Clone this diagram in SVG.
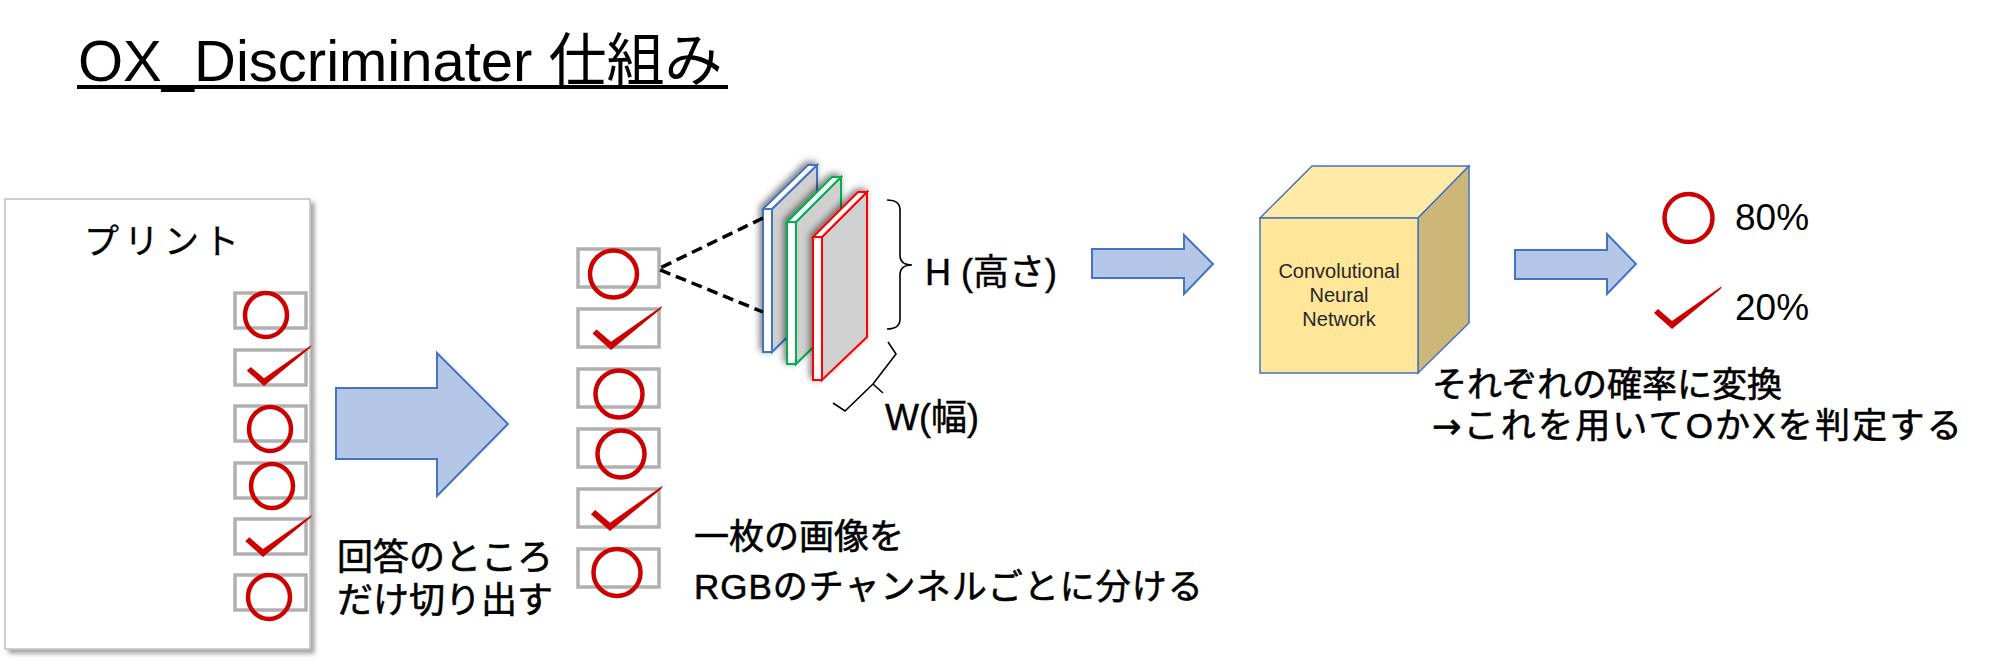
<svg xmlns="http://www.w3.org/2000/svg" xmlns:xlink="http://www.w3.org/1999/xlink" width="1997" height="664" viewBox="0 0 1997 664">
<defs>
<style>
.jp{font-family:"Liberation Sans","Noto Sans CJK JP",sans-serif;fill:#000;stroke:#000;stroke-width:0.6}
.lat{font-family:"Liberation Sans","Noto Sans CJK JP",sans-serif;fill:#000}
.arr{font-family:"DejaVu Sans",sans-serif}
.lab{stroke:#000;stroke-width:0.4}
.box{fill:none;stroke:#b0b0b0;stroke-width:3.5}
.mark{fill:none;stroke:#cc0000;stroke-width:4.5}
.chk{fill:#cc0000}
.arrow{fill:#b4c7e7;stroke:#4472c4;stroke-width:2;stroke-linejoin:miter}
.face{fill:#ffffff;stroke-width:2;stroke-linejoin:miter}
.side{fill:#d0d0d0;stroke-width:2;stroke-linejoin:miter}
.brace{fill:none;stroke:#000;stroke-width:1.6}
.dash{fill:none;stroke:#000;stroke-width:3.5;stroke-dasharray:11 6}
.cube{stroke:#4472c4;stroke-width:1.5;stroke-linejoin:miter}
</style>
<path id="chk" d="M0,2 L-18,-14 L-14,-18 L0,-6 L50,-41 L48.5,-38 Z"/>
<filter id="paperShadow" x="-10%" y="-10%" width="125%" height="125%">
<feDropShadow dx="4" dy="4" stdDeviation="2" flood-color="#000" flood-opacity="0.35"/>
</filter>
<filter id="panelShadow" x="-50%" y="-20%" width="200%" height="140%">
<feDropShadow dx="-2" dy="-2" stdDeviation="3.5" flood-color="#000" flood-opacity="0.55"/>
</filter>
</defs>
<rect width="1997" height="664" fill="#ffffff"/>

<g id="title">
<text class="lat" x="78" y="81" font-size="58">OX_Discriminater 仕組み</text>
<rect x="77" y="85" width="651" height="4" fill="#000"/>
</g>

<g id="print">
<rect x="5" y="199" width="305" height="450" fill="#ffffff" stroke="#bfbfbf" stroke-width="1.5" filter="url(#paperShadow)"/>
<text class="jp" x="84" y="254" font-size="35" letter-spacing="5" style="stroke-width:0.3">プリント</text>
<rect class="box" x="235" y="293" width="71" height="35"/>
<rect class="box" x="235" y="350" width="71" height="35"/>
<rect class="box" x="235" y="406" width="71" height="35"/>
<rect class="box" x="235" y="463" width="71" height="35"/>
<rect class="box" x="235" y="519" width="71" height="35"/>
<rect class="box" x="235" y="575" width="71" height="35"/>
<ellipse class="mark" cx="266" cy="315" rx="21" ry="22"/>
<use class="chk" xlink:href="#chk" href="#chk" transform="translate(264,384) scale(0.95)"/>
<ellipse class="mark" cx="270" cy="429" rx="21" ry="22"/>
<ellipse class="mark" cx="272" cy="486" rx="21" ry="22"/>
<use class="chk" xlink:href="#chk" href="#chk" transform="translate(263,555) scale(0.98)"/>
<ellipse class="mark" cx="269" cy="597" rx="21" ry="22"/>
</g>

<g id="crops">
<rect class="box" x="578" y="249" width="81" height="38"/>
<rect class="box" x="578" y="309" width="81" height="38"/>
<rect class="box" x="578" y="369" width="81" height="38"/>
<rect class="box" x="578" y="429" width="81" height="38"/>
<rect class="box" x="578" y="489" width="81" height="38"/>
<rect class="box" x="578" y="549" width="81" height="38"/>
<circle class="mark" cx="613.5" cy="274" r="23.5"/>
<use class="chk" xlink:href="#chk" href="#chk" transform="translate(611,348) scale(1.03)"/>
<circle class="mark" cx="619" cy="394" r="23.5"/>
<circle class="mark" cx="621" cy="454" r="23.5"/>
<use class="chk" xlink:href="#chk" href="#chk" transform="translate(610,529) scale(1.06)"/>
<circle class="mark" cx="617" cy="572.5" r="23.5"/>
</g>

<g id="channels">
<g id="ch-blue" stroke="#4472c4" filter="url(#panelShadow)">
<polygon class="side" points="772,209 817,165 817,308 772,352"/>
<polygon class="face" points="763,209 808,165 817,165 772,209"/>
<rect class="face" x="763" y="209" width="9" height="143"/>
</g>
<g id="ch-green" stroke="#00b050" filter="url(#panelShadow)">
<polygon class="side" points="796,222 841,177 841,320 796,364"/>
<polygon class="face" points="787,222 832,177 841,177 796,222"/>
<rect class="face" x="787" y="222" width="9" height="142"/>
</g>
<g id="ch-red" stroke="#ff0000" filter="url(#panelShadow)">
<polygon class="side" points="822,237 867,192 867,337 822,380"/>
<polygon class="face" points="813,237 858,192 867,192 822,237"/>
<rect class="face" x="813" y="237" width="9" height="143"/>
</g>
</g>

<g id="cnn">
<polygon class="cube" fill="#ffeaa8" points="1260,218 1312,166 1469,166 1418,218"/>
<polygon class="cube" fill="#ccb778" points="1418,218 1469,166 1469,323 1418,373"/>
<rect class="cube" fill="#ffe699" x="1260" y="218" width="158" height="155"/>
<text font-family="Liberation Sans, sans-serif" font-size="20" fill="#262626" text-anchor="middle"><tspan x="1339" y="278">Convolutional</tspan><tspan x="1339" y="302">Neural</tspan><tspan x="1339" y="326">Network</tspan></text>
</g>

<g id="result">
<circle class="mark" cx="1688.5" cy="218" r="24"/>
<text class="lat" x="1735" y="230" font-size="37">80%</text>
<use class="chk" xlink:href="#chk" href="#chk" transform="translate(1672,327)"/>
<text class="lat" x="1735" y="320" font-size="37">20%</text>
</g>

<g id="labels">
<g id="label-crop">
<text class="jp" font-size="36"><tspan x="337" y="570">回答のところ</tspan><tspan x="337" y="613">だけ切り出す</tspan></text>
</g>
<g id="label-split">
<text class="jp" font-size="35"><tspan x="694" y="549">一枚の画像を</tspan><tspan x="694" y="599" letter-spacing="1">RGBのチャンネルごとに分ける</tspan></text>
</g>
<g id="label-h"><text class="lat lab" x="925" y="285" font-size="36">H (高さ)</text></g>
<g id="label-w"><text class="lat lab" x="885" y="430" font-size="36">W(幅)</text></g>
<g id="label-result">
<text class="jp" font-size="35"><tspan x="1432" y="397">それぞれの確率に変換</tspan><tspan x="1432" y="438" letter-spacing="2.2"><tspan class="arr">→</tspan>これを用いてOかXを判定する</tspan></text>
</g>
</g>

<g id="connectors">
<polygon class="arrow" points="336,388 437,388 437,353 508,424 437,496 437,459 336,459"/>
<polygon class="arrow" points="1092,249 1184,249 1184,235 1213,264 1184,294 1184,278 1092,278"/>
<polygon class="arrow" points="1515,250 1607,250 1607,234 1636,264 1607,294 1607,279 1515,279"/>
<path class="dash" d="M763,218 L658,269 L763,312"/>
<path class="brace" d="M887,200 Q900,200 900,210 L900,255 Q900,265 912,265 Q900,265 900,275 L900,319 Q900,329 887,329"/>
<path class="brace" d="M833,403 L845,411 L873,384 L883,393 M873,384 L896,354 L888,342"/>
</g>
</svg>
